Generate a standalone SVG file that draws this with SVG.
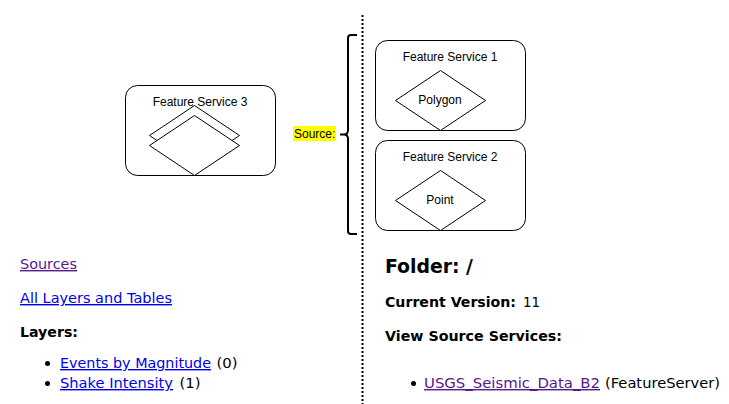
<svg xmlns="http://www.w3.org/2000/svg" width="729" height="404" viewBox="0 0 729 404">
<style>
.box{fill:#fff;stroke:#000;stroke-width:1}
.dia{fill:#fff;stroke:#000;stroke-width:1}
.lbl{font-family:"Liberation Sans",Arial,sans-serif;font-size:12px;fill:#000;text-anchor:middle}
.web{font-family:"DejaVu Sans",Verdana,sans-serif;font-size:14px;fill:#000}
.b{font-weight:bold}
.big{font-size:19px}
.link{fill:#0000EE;text-decoration:underline}
.vis{fill:#551A8B;text-decoration:underline}
</style>
<rect width="729" height="404" fill="#fff"/>
<g id="divider">
<line x1="362.5" y1="15" x2="362.5" y2="404" stroke="#000" stroke-width="2" stroke-dasharray="2,2"/>
</g>
<g id="fs3">
<rect class="box" x="125.5" y="85.5" width="150" height="90" rx="12"/>
<polygon class="dia" points="194.5,105.5 239.5,135.5 194.5,165.5 149.5,135.5"/>
<polygon class="dia" points="194.5,115.5 239.5,145.5 194.5,175.5 149.5,145.5"/>
<text class="lbl" x="200" y="106">Feature Service 3</text>
</g>
<g id="fs1">
<rect class="box" x="375.5" y="40.5" width="150" height="90" rx="12"/>
<polygon class="dia" points="440.5,70.5 485.5,100.5 440.5,130.5 395.5,100.5"/>
<text class="lbl" x="450" y="61">Feature Service 1</text>
<text class="lbl" x="440" y="104">Polygon</text>
</g>
<g id="fs2">
<rect class="box" x="375.5" y="140.5" width="150" height="90" rx="12"/>
<polygon class="dia" points="440.5,170.5 485.5,200.5 440.5,230.5 395.5,200.5"/>
<text class="lbl" x="450" y="161">Feature Service 2</text>
<text class="lbl" x="440" y="204">Point</text>
</g>
<g id="source">
<rect x="293" y="126" width="43" height="15" fill="#ffff00"/>
<text x="294" y="138" font-family="Liberation Sans,Arial,sans-serif" font-size="12" fill="#000">Source:</text>
<path d="M357,35 L351,35 Q348,35 348,38 L348,130 Q348,134.5 344,134.5 L340,134.5 L344,134.5 Q348,134.5 348,139 L348,231 Q348,234 351,234 L357,234" fill="none" stroke="#000" stroke-width="2"/>
</g>
<g id="left-text">
<text class="web vis" x="20" y="269" textLength="57" lengthAdjust="spacingAndGlyphs">Sources</text>
<text class="web link" x="20" y="303" textLength="152" lengthAdjust="spacingAndGlyphs">All Layers and Tables</text>
<text class="web b" x="20" y="337" textLength="58" lengthAdjust="spacingAndGlyphs">Layers:</text>
<circle cx="47.5" cy="363.5" r="2.5" fill="#000"/>
<text class="web link" x="60" y="368" textLength="151" lengthAdjust="spacingAndGlyphs">Events by Magnitude</text>
<text class="web" x="216.5" y="368" textLength="21" lengthAdjust="spacingAndGlyphs">(0)</text>
<circle cx="47.5" cy="383.5" r="2.5" fill="#000"/>
<text class="web link" x="60" y="388" textLength="113" lengthAdjust="spacingAndGlyphs">Shake Intensity</text>
<text class="web" x="179.5" y="388" textLength="21" lengthAdjust="spacingAndGlyphs">(1)</text>
</g>
<g id="right-text">
<text class="web b big" x="385" y="273" textLength="88" lengthAdjust="spacingAndGlyphs">Folder: /</text>
<text class="web b" x="385" y="307" textLength="131" lengthAdjust="spacingAndGlyphs">Current Version:</text>
<text class="web" x="523" y="307" textLength="17" lengthAdjust="spacingAndGlyphs">11</text>
<text class="web b" x="385" y="341" textLength="177" lengthAdjust="spacingAndGlyphs">View Source Services:</text>
<circle cx="413.5" cy="383.5" r="2.5" fill="#000"/>
<text class="web vis" x="424" y="388" textLength="176" lengthAdjust="spacingAndGlyphs">USGS_Seismic_Data_B2</text>
<text class="web" x="605" y="388" textLength="115" lengthAdjust="spacingAndGlyphs">(FeatureServer)</text>
</g>
</svg>
